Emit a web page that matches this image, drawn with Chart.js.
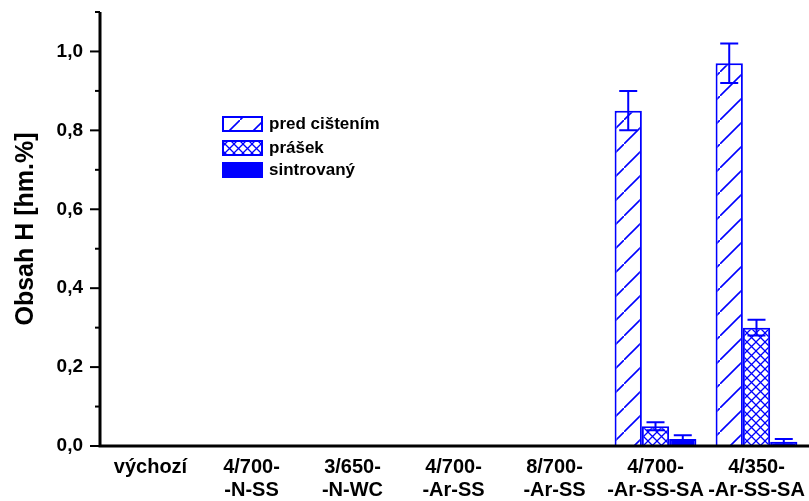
<!DOCTYPE html>
<html>
<head>
<meta charset="utf-8">
<title>Obsah H</title>
<script src="https://cdn.jsdelivr.net/npm/chart.js@4/dist/chart.umd.min.js"></script>
<style>
  html, body { margin: 0; padding: 0; background: #ffffff; }
  #wrap { width: 809px; height: 501px; }
</style>
</head>
<body>
<div id="wrap"><canvas id="c" width="809" height="501"></canvas></div>
<script>
// Sample groups (two-line labels)
const categories = [
  ['výchozí'],
  ['4/700-', '-N-SS'],
  ['3/650-', '-N-WC'],
  ['4/700-', '-Ar-SS'],
  ['8/700-', '-Ar-SS'],
  ['4/700-', '-Ar-SS-SA'],
  ['4/350-', '-Ar-SS-SA']
];

const seriesNames = ['pred cištením', 'prášek', 'sintrovaný'];

// Hydrogen content [hm.%]
const predCistenim = [0, 0, 0, 0, 0, 0.85, 0.97];
const prasek       = [0, 0, 0, 0, 0, 0.05, 0.30];
const sintrovany   = [0, 0, 0, 0, 0, 0.018, 0.011];

// Error bar half-widths
const predCistenimErr = [0, 0, 0, 0, 0, 0.05, 0.05];
const prasekErr       = [0, 0, 0, 0, 0, 0.01, 0.02];
const sintrovanyErr   = [0, 0, 0, 0, 0, 0.009, 0.007];

const yTicks = [0, 0.1, 0.2, 0.3, 0.4, 0.5, 0.6, 0.7, 0.8, 0.9, 1.0, 1.1];

const BLUE = '#0000ff';

function makePattern(size, draw) {
  const cv = document.createElement('canvas');
  cv.width = size; cv.height = size;
  const g = cv.getContext('2d');
  g.fillStyle = '#ffffff';
  g.fillRect(0, 0, size, size);
  g.strokeStyle = BLUE;
  draw(g, size);
  return cv.getContext('2d').createPattern(cv, 'repeat');
}

// "/" single hatch
const hatchSingle = makePattern(24, (g, s) => {
  g.lineWidth = 1.6;
  g.beginPath();
  g.moveTo(-2, s + 2); g.lineTo(s + 2, -2);
  g.stroke();
});

// cross hatch
const hatchCross = makePattern(9, (g, s) => {
  g.lineWidth = 1.3;
  g.beginPath();
  g.moveTo(-1, s + 1); g.lineTo(s + 1, -1);
  g.moveTo(-1, -1); g.lineTo(s + 1, s + 1);
  g.stroke();
});

const fills = [hatchSingle, hatchCross, BLUE];
const seriesData = [predCistenim, prasek, sintrovany];
const seriesErr = [predCistenimErr, prasekErr, sintrovanyErr];

const fmt = v => v.toFixed(1).replace('.', ',');

// Error bars drawn through the value scale
const errorBars = {
  id: 'errorBars',
  afterDatasetsDraw(chart) {
    const ctx = chart.ctx;
    const ys = chart.scales.y;
    ctx.save();
    ctx.strokeStyle = BLUE;
    ctx.lineWidth = 2;
    chart.data.datasets.forEach((ds, i) => {
      const meta = chart.getDatasetMeta(i);
      meta.data.forEach((bar, j) => {
        const e = ds.errors[j];
        if (!e) return;
        const v = ds.data[j];
        const yt = ys.getPixelForValue(v + e);
        const yb = ys.getPixelForValue(v - e);
        const half = 9;
        ctx.beginPath();
        ctx.moveTo(bar.x, yt); ctx.lineTo(bar.x, yb);
        ctx.moveTo(bar.x - half, yt); ctx.lineTo(bar.x + half, yt);
        ctx.moveTo(bar.x - half, yb); ctx.lineTo(bar.x + half, yb);
        ctx.stroke();
      });
    });
    ctx.restore();
  }
};

// Axis lines with major/minor tick marks
const axesFrame = {
  id: 'axesFrame',
  afterDatasetsDraw(chart) {
    const ctx = chart.ctx;
    const a = chart.chartArea;
    const ys = chart.scales.y;
    ctx.save();
    ctx.strokeStyle = '#000000';
    ctx.lineWidth = 3;
    ctx.beginPath();
    ctx.moveTo(a.left, a.top);
    ctx.lineTo(a.left, a.bottom + 1.5);
    ctx.moveTo(a.left - 1.5, a.bottom);
    ctx.lineTo(chart.width, a.bottom);
    ctx.stroke();
    ctx.lineWidth = 2;
    yTicks.forEach((v, i) => {
      const y = ys.getPixelForValue(v);
      const len = (i % 2 === 0) ? 10 : 5;
      ctx.beginPath();
      ctx.moveTo(a.left - len, y);
      ctx.lineTo(a.left, y);
      ctx.stroke();
    });
    ctx.restore();
  }
};

// Legend inside the plot area
const innerLegend = {
  id: 'innerLegend',
  afterDraw(chart) {
    const ctx = chart.ctx;
    const x0 = 223, w = 39, h = 14;
    const rowsY = [117, 141, 163];
    ctx.save();
    chart.data.datasets.forEach((ds, i) => {
      const y = rowsY[i];
      ctx.fillStyle = ds.backgroundColor;
      ctx.fillRect(x0, y, w, h);
      ctx.strokeStyle = BLUE;
      ctx.lineWidth = 2;
      ctx.strokeRect(x0, y, w, h);
      ctx.fillStyle = '#000000';
      ctx.font = 'bold 17px "Liberation Sans", Arial, sans-serif';
      ctx.textBaseline = 'middle';
      ctx.textAlign = 'left';
      ctx.fillText(ds.label, x0 + w + 7, y + h / 2);
    });
    ctx.restore();
  }
};

new Chart(document.getElementById('c'), {
  type: 'bar',
  data: {
    labels: categories,
    datasets: seriesNames.map((name, i) => ({
      label: name,
      data: seriesData[i],
      errors: seriesErr[i],
      backgroundColor: fills[i],
      borderColor: BLUE,
      borderWidth: 2,
      categoryPercentage: 0.81,
      barPercentage: 1.0
    }))
  },
  options: {
    responsive: false,
    animation: false,
    devicePixelRatio: 1,
    layout: { padding: { top: 12, right: 2, left: 0, bottom: 0 } },
    plugins: { legend: { display: false }, tooltip: { enabled: false } },
    scales: {
      x: {
        grid: { display: false, drawTicks: false },
        border: { display: false },
        ticks: {
          color: '#000000',
          font: { family: '"Liberation Sans", Arial, sans-serif', size: 20, weight: 'bold', lineHeight: 1.15 },
          padding: 10,
          maxRotation: 0,
          autoSkip: false
        },
        afterFit(s) {
          s.height = 55;
          s.paddingLeft = 0; s.paddingRight = 0;
        }
      },
      y: {
        min: 0,
        max: 1.1,
        afterBuildTicks(s) { s.ticks = yTicks.map(v => ({ value: v })); },
        grid: { display: false, drawTicks: false },
        border: { display: false },
        ticks: {
          color: '#000000',
          font: { family: '"Liberation Sans", Arial, sans-serif', size: 19, weight: 'bold' },
          padding: 17,
          callback: (v, i) => (i % 2 === 0 && v <= 1.0001) ? fmt(v) : ''
        },
        title: {
          display: true,
          text: 'Obsah H [hm.%]',
          color: '#000000',
          font: { family: '"Liberation Sans", Arial, sans-serif', size: 25, weight: 'bold' },
          padding: { top: 11, bottom: 0 }
        },
        afterFit(s) {
          s.width = 100;
          s.paddingTop = 0; s.paddingBottom = 0;
        }
      }
    }
  },
  plugins: [errorBars, axesFrame, innerLegend]
});
</script>
</body>
</html>
